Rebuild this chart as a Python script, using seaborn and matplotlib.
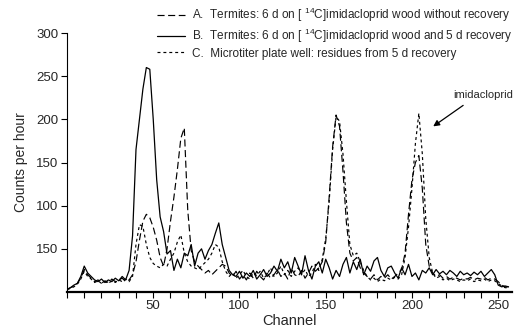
import numpy as np
import pandas as pd
import matplotlib
matplotlib.use("Agg")
import matplotlib.pyplot as plt
import seaborn as sns

# ---- data ----
channels = list(range(0, 257, 2))

series_a = [3, 5, 7, 10, 16, 26, 20, 16, 12, 14, 10, 13, 11, 15, 12, 14, 16, 12, 14, 20,
            35, 60, 82, 90, 86, 75, 60, 40, 30, 50, 82, 110, 142, 178, 190, 95, 48, 35, 30, 26,
            22, 25, 20, 24, 28, 32, 30, 22, 18, 24, 15, 20, 14, 22, 16, 24, 18, 14, 22, 16,
            20, 26, 18, 22, 15, 28, 20, 18, 25, 16, 22, 30, 24, 28, 35, 58, 110, 168, 205, 192,
            140, 80, 45, 36, 40, 28, 22, 18, 15, 20, 14, 18, 16, 20, 15, 18, 22, 26, 45, 90,
            130, 150, 158, 120, 55, 30, 22, 18, 20, 16, 18, 15, 17, 16, 14, 16, 15, 17, 14, 16,
            15, 17, 14, 16, 15, 12, 8, 6, 6]

series_b = [3, 5, 8, 10, 18, 30, 22, 18, 14, 12, 15, 11, 14, 12, 16, 13, 18, 14, 25, 65,
            165, 200, 235, 260, 258, 200, 130, 87, 70, 44, 48, 25, 38, 28, 45, 42, 55, 30, 45, 50,
            38, 48, 55, 68, 80, 55, 40, 25, 20, 18, 24, 16, 22, 18, 25, 15, 20, 26, 18, 22,
            30, 24, 38, 28, 35, 22, 40, 30, 20, 42, 25, 15, 30, 35, 22, 38, 28, 15, 25, 18,
            32, 40, 22, 35, 26, 38, 20, 30, 24, 36, 40, 25, 18, 28, 30, 22, 16, 28, 20, 32,
            18, 22, 14, 25, 22, 28, 20, 26, 21, 24, 20, 25, 22, 18, 24, 20, 22, 19, 23, 20,
            24, 18, 22, 26, 20, 8, 6, 7, 6]

series_c = [3, 4, 6, 9, 15, 24, 18, 15, 11, 13, 10, 12, 10, 13, 11, 14, 12, 15, 12, 18,
            55, 78, 76, 55, 40, 33, 30, 28, 32, 30, 38, 45, 58, 66, 45, 35, 30, 28, 26, 30,
            34, 38, 45, 55, 52, 35, 24, 18, 22, 16, 20, 25, 18, 15, 22, 19, 24, 16, 20, 28,
            18, 22, 30, 20, 25, 18, 24, 28, 20, 26, 18, 22, 32, 25, 38, 62, 105, 165, 203, 198,
            160, 105, 55, 42, 45, 35, 25, 18, 14, 16, 12, 15, 13, 16, 14, 17, 15, 20, 40, 75,
            120, 172, 207, 160, 85, 40, 22, 16, 18, 14, 16, 13, 15, 14, 12, 14, 13, 15, 12, 14,
            13, 15, 12, 14, 13, 10, 7, 5, 5]

labels = [
    "A.  Termites: 6 d on [ $^{14}$C]imidacloprid wood without recovery",
    "B.  Termites: 6 d on [ $^{14}$C]imidacloprid wood and 5 d recovery",
    "C.  Microtiter plate well: residues from 5 d recovery",
]
x_ticks = [50, 100, 150, 200, 250]
x_tick_labels = ["50", "100", "150", "200", "250"]
y_ticks = [50, 100, 150, 200, 250, 300]
y_tick_labels = ["150", "100", "150", "200", "250", "300"]
annotation_text = "imidacloprid"

# ---- style ----
sns.set_style("ticks")
plt.rcParams["font.family"] = ["Liberation Sans", "DejaVu Sans"]
plt.rcParams["mathtext.fontset"] = "custom"
plt.rcParams["mathtext.rm"] = "Liberation Sans"
plt.rcParams["mathtext.it"] = "Liberation Sans"
plt.rcParams["mathtext.default"] = "regular"

fig = plt.figure(figsize=(5.2, 3.3), dpi=100)
ax = fig.add_axes([67 / 520, 1 - 292 / 330, (512 - 67) / 520, (292 - 33) / 330])

df = pd.DataFrame({"channel": channels, "A": series_a, "B": series_b, "C": series_c})

styles = {
    "A": dict(linestyle=(0, (6, 3)), linewidth=0.85),
    "B": dict(linestyle="-", linewidth=0.9),
    "C": dict(linestyle=(0, (2.5, 2.5)), linewidth=0.85),
}
for key, lab in zip(["A", "B", "C"], labels):
    sns.lineplot(data=df, x="channel", y=key, ax=ax, color="black", label=lab, **styles[key])

ax.set_xlim(0, 258)
ax.set_ylim(0, 300)
ax.set_xticks(x_ticks)
ax.set_xticklabels(x_tick_labels, fontsize=9.5)
ax.set_xticks(list(range(0, 251, 10)), minor=True)
ax.set_yticks(y_ticks)
ax.set_yticklabels(y_tick_labels, fontsize=9.5)
ax.tick_params(axis="both", which="both", direction="out", length=4, width=0.8, color="black", pad=2)
ax.tick_params(axis="x", which="minor", length=4)

for s in ["top", "right"]:
    ax.spines[s].set_visible(False)
ax.spines["bottom"].set_linewidth(1.6)
ax.spines["left"].set_linewidth(0.8)
ax.spines["bottom"].set_color("black")
ax.spines["left"].set_color("black")

ax.set_xlabel("Channel", fontsize=10.5, labelpad=1)
ax.set_ylabel("Counts per hour", fontsize=10, labelpad=6)

leg = ax.legend(frameon=False, fontsize=8.5, loc="upper left",
                bbox_to_anchor=(157 / 520, 1 - 6 / 330), bbox_transform=fig.transFigure,
                borderpad=0, borderaxespad=0, handlelength=2.4, handletextpad=0.6,
                labelspacing=0.22)

ax.text(224, 228, annotation_text, fontsize=8, ha="left", va="center")
ax.annotate("", xy=(211, 190), xytext=(231, 218),
            arrowprops=dict(arrowstyle="-|>", color="black", lw=0.9, mutation_scale=9))

fig.savefig("out.png", dpi=100)
